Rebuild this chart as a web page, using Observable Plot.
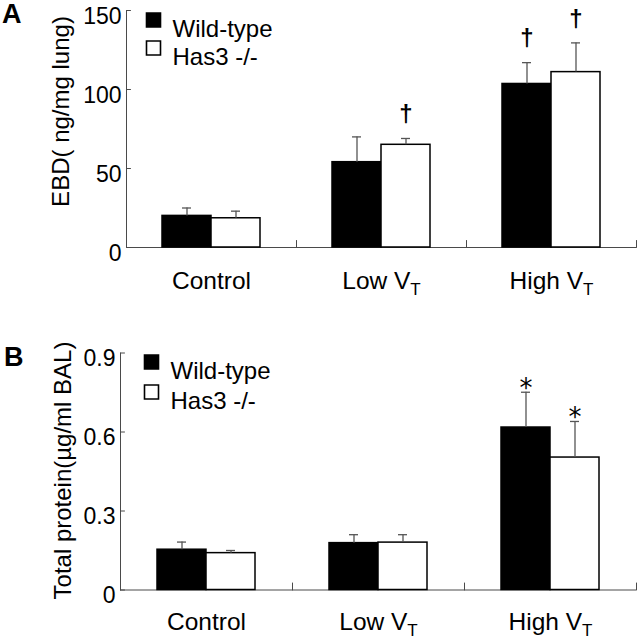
<!DOCTYPE html>
<html><head><meta charset="utf-8">
<script src="https://cdn.jsdelivr.net/npm/d3@7"></script>
<script src="https://cdn.jsdelivr.net/npm/@observablehq/plot@0.6"></script>
<style>
body{margin:0;background:#fff;font-family:"Liberation Sans",Arial,sans-serif;}
#wrap{position:relative;width:638px;height:639px;overflow:hidden;}
.panel{position:absolute;left:0;}
.letter{position:absolute;font-weight:bold;font-size:27px;line-height:1.2;font-family:"Liberation Sans",Arial,sans-serif;}
</style></head><body>
<div id="wrap"></div>
<script>
// ---------- data ----------
const categories = ["Control", "Low VT", "High VT"];
const groups = ["Wild-type", "Has3 -/-"];

// Panel A: EBD (ng/mg lung)
const ebdWT = [20, 54, 103.5];
const ebdWTErr = [5, 16, 13.5];
const ebdKO = [18.5, 65, 111];
const ebdKOErr = [4.5, 4, 18.5];
const ebdWTSig = ["", "", "†"];
const ebdKOSig = ["", "†", "†"];
const ebdTicks = [0, 50, 100, 150];

// Panel B: Total protein (µg/ml BAL)
const protWT = [0.153, 0.178, 0.617];
const protWTErr = [0.029, 0.032, 0.134];
const protKO = [0.140, 0.180, 0.503];
const protKOErr = [0.010, 0.030, 0.137];
const protWTSig = ["", "", "*"];
const protKOSig = ["", "", "*"];
const protTicks = [0, 0.3, 0.6, 0.9];

// ---------- helpers ----------
function makeRows(wt, wtErr, wtSig, ko, koErr, koSig) {
  const rows = [];
  categories.forEach((c, i) => {
    rows.push({category: c, group: groups[0], value: wt[i], err: wtErr[i], sig: wtSig[i]});
    rows.push({category: c, group: groups[1], value: ko[i], err: koErr[i], sig: koSig[i]});
  });
  return rows;
}
const lineShape = {draw(context, l) { context.moveTo(0, 0); context.lineTo(0, -l); }};
const AX = "#4a4a4a";
const FONT = "Liberation Sans, Arial, sans-serif";

function panel(o) {
  const frameH = o.height - o.marginTop - o.marginBottom;
  const first = () => categories[0];
  const svg = Plot.plot({
    width: 638, height: o.height,
    marginLeft: o.marginLeft, marginRight: 2, marginTop: o.marginTop, marginBottom: o.marginBottom,
    style: {fontFamily: FONT, background: "white", overflow: "visible", color: "black"},
    fx: {domain: categories, padding: 0, axis: null, label: null},
    x: {domain: groups, paddingInner: 0, paddingOuter: 0.73, axis: null},
    y: {domain: [0, o.yMax], axis: null},
    color: {domain: groups, range: ["black", "white"]},
    marks: [
      // x axis line
      Plot.ruleY([0], {stroke: AX, strokeWidth: 1}),
      // category boundary ticks
      Plot.vector([0], {frameAnchor: "bottom-right", anchor: "start", rotate: 0, length: 7, shape: lineShape, stroke: AX, strokeWidth: 1}),
      // y axis line
      Plot.vector([0], {fx: first, frameAnchor: "bottom-left", anchor: "start", rotate: 0, length: frameH, shape: lineShape, stroke: AX, strokeWidth: 1}),
      // y ticks (inward)
      Plot.vector(o.ticks, {fx: first, y: d => d, frameAnchor: "left", anchor: "start", rotate: 90, length: 4, shape: lineShape, stroke: AX, strokeWidth: 1}),
      Plot.text(o.ticks, {fx: first, y: d => d, text: d => String(d), frameAnchor: "left", textAnchor: "end", dx: -o.tickPad, dy: 6, fontSize: 23, fill: "black"}),
      // y title
      Plot.text([o.yTitle], {fx: first, text: d => d, frameAnchor: "left", textAnchor: "middle", lineAnchor: "middle", rotate: -90, dx: o.titleDx, dy: o.titleDy, fontSize: 24, fill: "black"}),
      // bars
      Plot.barY(o.rows, {fx: "category", x: "group", y: "value", fill: "group", stroke: "black", strokeWidth: 1.5}),
      // error bars (upper)
      Plot.ruleX(o.rows, {fx: "category", x: "group", y1: "value", y2: d => d.value + d.err, stroke: "#555", strokeWidth: 1.3}),
      Plot.tickY(o.rows, {fx: "category", x: "group", y: d => d.value + d.err, stroke: "#555", strokeWidth: 1.3, insetLeft: 20, insetRight: 20}),
      // significance marks
      Plot.text(o.rows.filter(d => d.sig), {fx: "category", x: "group", y: d => d.value + d.err, text: "sig", dy: o.sigDy, fontSize: o.sigSize, fontWeight: o.sigWeight, fill: "black", fontFamily: o.sigFont}),
      // category labels
      Plot.text(categories, {fx: d => d, text: d => d, frameAnchor: "bottom", lineAnchor: "top", dy: o.catDy, fontSize: 24.5, fill: "black"}),
      // legend
      ...groups.map((g, i) => Plot.dot([g], {fx: first, frameAnchor: "top-left", dx: o.legDx, dy: o.legDy + i * o.legStep, symbol: "square", r: 7.9, fill: d => d, stroke: "black", strokeWidth: 1.6})),
      ...groups.map((g, i) => Plot.text([g], {fx: first, frameAnchor: "top-left", text: d => d, textAnchor: "start", dx: o.legDx + 19, dy: o.legDy + i * o.legStep, fontSize: 24, fill: "black"}))
    ]
  });
  // subscript T in "Low VT" / "High VT"
  d3.select(svg).selectAll("text").each(function() {
    const t = this.textContent;
    if (/ VT$/.test(t) && this.childElementCount === 0) {
      this.textContent = t.slice(0, -1);
      d3.select(this).append("tspan").attr("font-size", 17).attr("dy", 6).text("T");
    }
  });
  return svg;
}

const wrap = document.getElementById("wrap");

const svgA = panel({
  rows: makeRows(ebdWT, ebdWTErr, ebdWTSig, ebdKO, ebdKOErr, ebdKOSig),
  ticks: ebdTicks, yMax: 150, yTitle: "EBD( ng/mg lung)",
  height: 320, marginLeft: 125, marginTop: 10, marginBottom: 73,
  tickPad: 5, titleDx: -65, titleDy: -17.5, catDy: 24,
  legDx: 27, legDy: 9.5, legStep: 28,
  sigDy: -24, sigSize: 24, sigWeight: "bold", sigFont: FONT
});
const svgB = panel({
  rows: makeRows(protWT, protWTErr, protWTSig, protKO, protKOErr, protKOSig),
  ticks: protTicks, yMax: 0.9, yTitle: "Total protein(µg/ml BAL)",
  height: 319, marginLeft: 119, marginTop: 32.5, marginBottom: 49.5,
  tickPad: 5, titleDx: -57, titleDy: -1, catDy: 23,
  legDx: 31, legDy: 9, legStep: 30,
  sigDy: -4, sigSize: 26, sigWeight: "normal", sigFont: "DejaVu Sans, sans-serif"
});

const pA = document.createElement("div"); pA.className = "panel"; pA.style.top = "0px"; pA.appendChild(svgA);
const pB = document.createElement("div"); pB.className = "panel"; pB.style.top = "320px"; pB.appendChild(svgB);
wrap.appendChild(pA); wrap.appendChild(pB);

const la = document.createElement("div"); la.className = "letter"; la.textContent = "A"; la.style.left = "2px"; la.style.top = "-2px";
const lb = document.createElement("div"); lb.className = "letter"; lb.textContent = "B"; lb.style.left = "4px"; lb.style.top = "341px";
wrap.appendChild(la); wrap.appendChild(lb);
</script>
</body></html>
